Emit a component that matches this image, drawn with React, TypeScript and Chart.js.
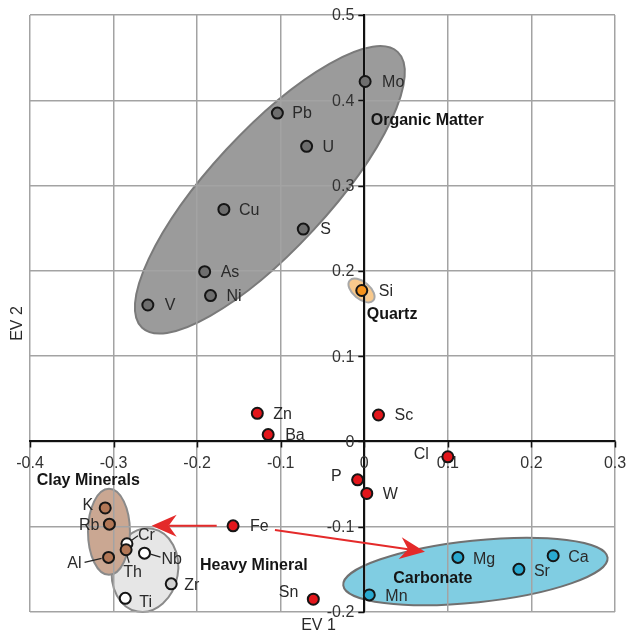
import React, { useEffect, useRef } from 'react';
import { Chart, registerables } from 'chart.js';

Chart.register(...registerables);

// ---- Element loadings on the first two eigenvectors (EV 1, EV 2) ----
const ORGANIC_NAMES = ['Mo', 'Pb', 'U', 'Cu', 'S', 'As', 'Ni', 'V'];
const ORGANIC_EV1 = [0.001, -0.104, -0.069, -0.168, -0.073, -0.191, -0.184, -0.259];
const ORGANIC_EV2 = [0.422, 0.385, 0.346, 0.272, 0.249, 0.199, 0.171, 0.160];

const QUARTZ_NAMES = ['Si'];
const QUARTZ_EV1 = [-0.003];
const QUARTZ_EV2 = [0.177];

const OTHER_NAMES = ['Zn', 'Ba', 'Fe', 'Sn', 'Sc', 'Cl', 'P', 'W'];
const OTHER_EV1 = [-0.128, -0.115, -0.157, -0.061, 0.017, 0.1, -0.008, 0.003];
const OTHER_EV2 = [0.033, 0.008, -0.099, -0.185, 0.031, -0.018, -0.045, -0.061];

const CARBONATE_NAMES = ['Mg', 'Sr', 'Ca', 'Mn'];
const CARBONATE_EV1 = [0.112, 0.185, 0.226, 0.006];
const CARBONATE_EV2 = [-0.136, -0.15, -0.134, -0.18];

const CLAY_NAMES = ['K', 'Rb', 'Al', 'Th'];
const CLAY_EV1 = [-0.31, -0.305, -0.306, -0.285];
const CLAY_EV2 = [-0.078, -0.097, -0.136, -0.127];

const HEAVY_NAMES = ['Cr', 'Nb', 'Zr', 'Ti'];
const HEAVY_EV1 = [-0.284, -0.263, -0.231, -0.286];
const HEAVY_EV2 = [-0.12, -0.131, -0.167, -0.184];

const X_TICK_LABELS = ['-0.4', '-0.3', '-0.2', '-0.1', '0', '0.1', '0.2', '0.3'];
const Y_TICK_LABELS = ['-0.2', '-0.1', '0', '0.1', '0.2', '0.3', '0.4', '0.5'];

// ---- Annotation geometry (data units; radii in EV 1 units, rotation in degrees) ----
const GROUP_ELLIPSES = [
  { cx: -0.113, cy: 0.295, rx: 0.225, ry: 0.071, rot: -47.2, fill: '#9b9b9b', stroke: '#7a7a7a' },
  { cx: -0.0033, cy: 0.177, rx: 0.0185, ry: 0.0102, rot: 40, fill: '#f8c98c', stroke: '#a8a8a8' },
  { cx: 0.133, cy: -0.1525, rx: 0.159, ry: 0.037, rot: -6, fill: '#80cde2', stroke: '#707070' },
  { cx: -0.2624, cy: -0.151, rx: 0.0395, ry: 0.0503, rot: 10, fill: '#e6e6e6', stroke: '#8a8a8a' },
  { cx: -0.3055, cy: -0.106, rx: 0.0251, ry: 0.0515, rot: 0, fill: '#caa792', stroke: '#8a8a8a' },
];

const GROUP_TITLES = ['Organic Matter', 'Quartz', 'Clay Minerals', 'Heavy Mineral', 'Carbonate'];
const GROUP_TITLE_EV1 = [0.0077, 0.0029, -0.392, -0.1966, 0.0347];
const GROUP_TITLE_EV2 = [0.3777, 0.15, -0.0453, -0.1449, -0.1598];

// Arrows leading away from Fe: [fromEV1, fromEV2, toEV1, toEV2]
const FE_ARROWS = [
  [-0.1766, -0.0988, -0.2544, -0.0988],
  [-0.1069, -0.1039, 0.0726, -0.1293],
];

// Label offsets (px) from each marker; optional leader line [x1, y1, x2, y2]
type Placement = { dx: number; dy: number; align?: CanvasTextAlign; leader?: number[] };
const LABEL_PLACEMENT: Record<string, Placement> = {
  Mo: { dx: 17, dy: 0 },
  Pb: { dx: 15, dy: 0 },
  U: { dx: 16, dy: 0 },
  Cu: { dx: 15, dy: 0 },
  S: { dx: 17, dy: 0 },
  As: { dx: 16, dy: 0 },
  Ni: { dx: 16, dy: 0 },
  V: { dx: 17, dy: 0 },
  Si: { dx: 17, dy: 0 },
  Zn: { dx: 16, dy: 0 },
  Ba: { dx: 17, dy: 0 },
  Fe: { dx: 17, dy: 0 },
  Sn: { dx: -15, dy: -8, align: 'right' },
  Sc: { dx: 16, dy: 0 },
  Cl: { dx: -19, dy: -3, align: 'right' },
  P: { dx: -16, dy: -4, align: 'right' },
  W: { dx: 16, dy: 0 },
  Mg: { dx: 15, dy: 1 },
  Sr: { dx: 15, dy: 1 },
  Ca: { dx: 15, dy: 1 },
  Mn: { dx: 16, dy: 1 },
  K: { dx: -12, dy: -3, align: 'right' },
  Rb: { dx: -10, dy: 0, align: 'right' },
  Al: { dx: -27, dy: 5, align: 'right', leader: [-24, 5, -7, 1] },
  Th: { dx: 6.5, dy: 22, align: 'center', leader: [1, 6, 3, 13] },
  Cr: { dx: 11, dy: -9, leader: [4, -3, 11, -8] },
  Nb: { dx: 17, dy: 5, leader: [6, 1, 16, 4] },
  Zr: { dx: 13, dy: 1 },
  Ti: { dx: 14, dy: 3 },
};

const FONT = "'Liberation Sans', Arial, Helvetica, sans-serif";
const TICK_LEN = 6;

const toPoints = (xs: number[], ys: number[]) => xs.map((x, i) => ({ x, y: ys[i] }));

const ellipsePlugin = {
  id: 'groupEllipses',
  beforeDraw(chart: any) {
    const { ctx, scales } = chart;
    const xs = scales.x;
    const ys = scales.y;
    const unit = xs.getPixelForValue(1) - xs.getPixelForValue(0);
    ctx.save();
    for (const e of GROUP_ELLIPSES) {
      ctx.beginPath();
      ctx.ellipse(
        xs.getPixelForValue(e.cx),
        ys.getPixelForValue(e.cy),
        e.rx * unit,
        e.ry * unit,
        (e.rot * Math.PI) / 180,
        0,
        Math.PI * 2
      );
      ctx.fillStyle = e.fill;
      ctx.fill();
      ctx.lineWidth = 2;
      ctx.strokeStyle = e.stroke;
      ctx.stroke();
    }
    ctx.restore();
  },
};

// Tick marks and value labels on both centred axes
const axisTickPlugin = {
  id: 'axisTicks',
  beforeDatasetsDraw(chart: any) {
    const { ctx, scales } = chart;
    const xs = scales.x;
    const ys = scales.y;
    const axisX = xs.getPixelForValue(0);
    const axisY = ys.getPixelForValue(0);
    ctx.save();
    ctx.strokeStyle = '#111';
    ctx.lineWidth = 1.5;
    ctx.beginPath();
    xs.ticks.forEach((t: any) => {
      const px = Math.round(xs.getPixelForValue(t.value)) + 0.5;
      ctx.moveTo(px, axisY);
      ctx.lineTo(px, axisY + TICK_LEN);
    });
    ys.ticks.forEach((t: any) => {
      const py = Math.round(ys.getPixelForValue(t.value)) + 0.5;
      ctx.moveTo(axisX, py);
      ctx.lineTo(axisX - TICK_LEN, py);
    });
    ctx.stroke();
    ctx.font = `16px ${FONT}`;
    ctx.fillStyle = '#333';
    ctx.textBaseline = 'middle';
    ctx.textAlign = 'right';
    ys.ticks.forEach((t: any, i: number) => {
      ctx.fillText(Y_TICK_LABELS[i], axisX - TICK_LEN - 4, ys.getPixelForValue(t.value) + 1);
    });
    ctx.textAlign = 'center';
    xs.ticks.forEach((t: any, i: number) => {
      ctx.fillText(X_TICK_LABELS[i], xs.getPixelForValue(t.value), axisY + 22);
    });
    ctx.restore();
  },
};

function drawArrow(ctx: CanvasRenderingContext2D, x1: number, y1: number, x2: number, y2: number) {
  const ang = Math.atan2(y2 - y1, x2 - x1);
  const len = 25;
  const half = 11;
  const notch = 17;
  ctx.save();
  ctx.strokeStyle = '#e42a2a';
  ctx.fillStyle = '#e42a2a';
  ctx.lineWidth = 2;
  ctx.beginPath();
  ctx.moveTo(x1, y1);
  ctx.lineTo(x2 - notch * Math.cos(ang), y2 - notch * Math.sin(ang));
  ctx.stroke();
  ctx.translate(x2, y2);
  ctx.rotate(ang);
  ctx.beginPath();
  ctx.moveTo(0, 0);
  ctx.lineTo(-len, -half);
  ctx.lineTo(-notch, 0);
  ctx.lineTo(-len, half);
  ctx.closePath();
  ctx.fill();
  ctx.restore();
}

const annotationPlugin = {
  id: 'annotations',
  afterDatasetsDraw(chart: any) {
    const { ctx, scales, chartArea } = chart;
    const xs = scales.x;
    const ys = scales.y;
    ctx.save();

    // element labels and leader lines
    ctx.font = `16px ${FONT}`;
    ctx.fillStyle = '#2a2a2a';
    ctx.textBaseline = 'middle';
    chart.data.datasets.forEach((ds: any, di: number) => {
      const meta = chart.getDatasetMeta(di);
      ds.names.forEach((name: string, i: number) => {
        const el = meta.data[i];
        const p = LABEL_PLACEMENT[name] || { dx: 15, dy: 0 };
        ctx.textAlign = p.align || 'left';
        ctx.fillText(name, el.x + p.dx, el.y + p.dy + 1);
        if (p.leader) {
          ctx.beginPath();
          ctx.strokeStyle = '#222';
          ctx.lineWidth = 1.2;
          ctx.moveTo(el.x + p.leader[0], el.y + p.leader[1]);
          ctx.lineTo(el.x + p.leader[2], el.y + p.leader[3]);
          ctx.stroke();
        }
      });
    });

    // group titles
    ctx.font = `bold 16px ${FONT}`;
    ctx.fillStyle = '#151515';
    ctx.textAlign = 'left';
    GROUP_TITLES.forEach((t, i) => {
      ctx.fillText(t, xs.getPixelForValue(GROUP_TITLE_EV1[i]), ys.getPixelForValue(GROUP_TITLE_EV2[i]) + 1);
    });

    // arrows from Fe
    FE_ARROWS.forEach((a) => {
      drawArrow(
        ctx,
        xs.getPixelForValue(a[0]),
        ys.getPixelForValue(a[1]),
        xs.getPixelForValue(a[2]),
        ys.getPixelForValue(a[3])
      );
    });

    // axis titles
    ctx.font = `16px ${FONT}`;
    ctx.fillStyle = '#2a2a2a';
    ctx.textAlign = 'center';
    ctx.fillText('EV 1', (chartArea.left + chartArea.right) / 2 - 4, chartArea.bottom + 14);
    ctx.translate(chartArea.left - 12, (chartArea.top + chartArea.bottom) / 2 + 10);
    ctx.rotate(-Math.PI / 2);
    ctx.fillText('EV 2', 0, 0);
    ctx.restore();
  },
};

export default function App() {
  const canvasRef = useRef<HTMLCanvasElement | null>(null);

  useEffect(() => {
    if (!canvasRef.current) return;
    const marker = (bg: string | string[]) => ({
      showLine: false,
      pointRadius: 5.5,
      pointBorderWidth: 2,
      pointBorderColor: '#151515',
      pointBackgroundColor: bg,
    });
    const chart = new Chart(canvasRef.current, {
      type: 'scatter',
      data: {
        datasets: [
          { names: CLAY_NAMES, data: toPoints(CLAY_EV1, CLAY_EV2), ...marker('#b27756') },
          { names: HEAVY_NAMES, data: toPoints(HEAVY_EV1, HEAVY_EV2), ...marker(['#ffffff', '#ffffff', '#d2d2d2', '#ffffff']) },
          { names: ORGANIC_NAMES, data: toPoints(ORGANIC_EV1, ORGANIC_EV2), ...marker('#6e6e6e') },
          { names: QUARTZ_NAMES, data: toPoints(QUARTZ_EV1, QUARTZ_EV2), ...marker('#f7941d') },
          { names: OTHER_NAMES, data: toPoints(OTHER_EV1, OTHER_EV2), ...marker('#e3161b') },
          { names: CARBONATE_NAMES, data: toPoints(CARBONATE_EV1, CARBONATE_EV2), ...marker('#29a9d0') },
        ] as any,
      },
      options: {
        animation: false,
        responsive: false,
        devicePixelRatio: 1,
        layout: { padding: { left: 30, right: 13, top: 15, bottom: 23 } },
        plugins: { legend: { display: false }, tooltip: { enabled: false } },
        scales: {
          x: {
            type: 'linear',
            position: { y: 0 } as any,
            min: -0.4,
            max: 0.3,
            ticks: { stepSize: 0.1, autoSkip: false, display: false },
            grid: { color: '#a3a3a3', lineWidth: 1.5, drawTicks: false },
            border: { display: true, color: '#111', width: 2 },
          },
          y: {
            type: 'linear',
            position: { x: 0 } as any,
            min: -0.2,
            max: 0.5,
            ticks: { stepSize: 0.1, autoSkip: false, display: false },
            grid: { color: '#a3a3a3', lineWidth: 1.5, drawTicks: false },
            border: { display: true, color: '#111', width: 2 },
          },
        },
      },
      plugins: [ellipsePlugin, axisTickPlugin, annotationPlugin],
    });
    return () => chart.destroy();
  }, []);

  return (
    <div style={{ position: 'fixed', left: 0, top: 0, width: 628, height: 635, background: '#fff' }}>
      <canvas ref={canvasRef} width={628} height={635} style={{ display: 'block' }} />
    </div>
  );
}
